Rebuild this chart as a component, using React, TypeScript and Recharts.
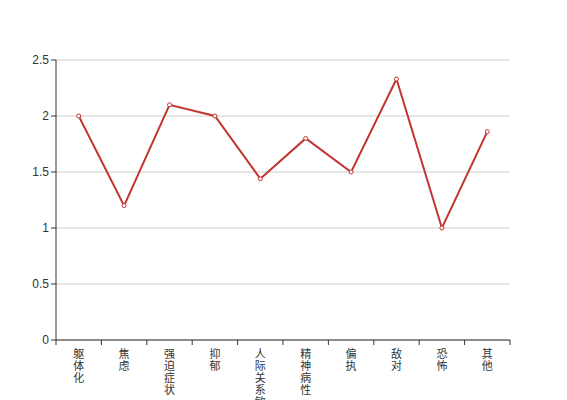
import React from "react";
import {
  LineChart,
  Line,
  XAxis,
  YAxis,
  CartesianGrid,
} from "recharts";

const categories = [
  "躯体化",
  "焦虑",
  "强迫症状",
  "抑郁",
  "人际关系敏感",
  "精神病性",
  "偏执",
  "敌对",
  "恐怖",
  "其他",
];
const scores = [2.0, 1.2, 2.1, 2.0, 1.44, 1.8, 1.5, 2.33, 1.0, 1.86];
const yTicks = [0, 0.5, 1, 1.5, 2, 2.5];

const data = categories.map((name, i) => ({ name, score: scores[i] }));

const W = 567;
const H = 400;
const M = { top: 60, right: 57, bottom: 0, left: 0 };
const X_HEIGHT = 60;
const Y_WIDTH = 56;
const PLOT_LEFT = M.left + Y_WIDTH;
const PLOT_RIGHT = W - M.right;
const PLOT_BOTTOM = H - M.bottom - X_HEIGHT;
const STEP = (PLOT_RIGHT - PLOT_LEFT) / categories.length;

const RED = "#c23531";
const AXIS = "#333";

function CategoryTick(props: any) {
  const { x, payload, index } = props;
  const chars = Array.from(String(payload.value));
  const left = x - STEP / 2;
  return (
    <g>
      <line x1={left} y1={PLOT_BOTTOM} x2={left} y2={PLOT_BOTTOM + 5} stroke={AXIS} />
      {index === categories.length - 1 && (
        <line
          x1={left + STEP}
          y1={PLOT_BOTTOM}
          x2={left + STEP}
          y2={PLOT_BOTTOM + 5}
          stroke={AXIS}
        />
      )}
      <text
        x={x}
        y={PLOT_BOTTOM + 18}
        textAnchor="middle"
        fill="#333"
        fontSize={11}
        fontFamily="'Noto Sans CJK SC', sans-serif"
      >
        {chars.map((c, i) => (
          <tspan key={i} x={x} dy={i === 0 ? 0 : 12}>
            {c}
          </tspan>
        ))}
      </text>
    </g>
  );
}

export default function App() {
  return (
    <div style={{ position: "absolute", left: 0, top: 0 }}>
      <LineChart width={W} height={H} data={data} margin={M}>
        <CartesianGrid vertical={false} stroke="#ccc" />
        <XAxis
          dataKey="name"
          interval={0}
          height={X_HEIGHT}
          padding={{ left: STEP / 2, right: STEP / 2 }}
          tickLine={false}
          stroke={AXIS}
          tick={<CategoryTick />}
        />
        <YAxis
          width={Y_WIDTH}
          domain={[0, 2.5]}
          ticks={yTicks}
          stroke={AXIS}
          tickSize={5}
          tick={{ fill: "#333", fontSize: 12, fontFamily: "'Liberation Sans', Arial, sans-serif" }}
        />
        <Line
          type="linear"
          dataKey="score"
          stroke={RED}
          strokeWidth={2}
          dot={{ r: 2, fill: "#fff", stroke: RED, strokeWidth: 1 }}
          isAnimationActive={false}
        />
      </LineChart>
    </div>
  );
}
